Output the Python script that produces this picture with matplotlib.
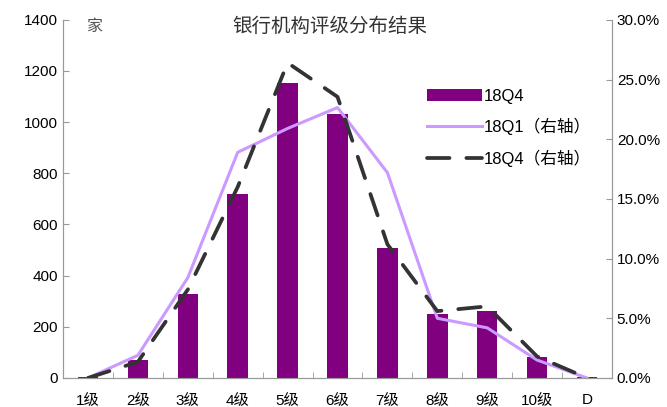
import matplotlib
matplotlib.use('Agg')
import matplotlib.pyplot as plt
import numpy as np
from matplotlib.ticker import FuncFormatter, MultipleLocator

plt.rcParams['font.family'] = ['Liberation Sans', 'Noto Sans CJK SC', 'DejaVu Sans']

categories = ['1级', '2级', '3级', '4级', '5级', '6级', '7级', '8级', '9级', '10级', 'D']
bars_18q4 = [3, 70, 328, 720, 1154, 1032, 510, 250, 262, 82, 3]
line_18q1 = [0.0, 1.9, 8.4, 18.9, 20.9, 22.65, 17.2, 5.0, 4.2, 1.5, 0.0]
line_18q4 = [0.0, 1.35, 7.4, 16.0, 26.4, 23.55, 11.2, 5.6, 6.0, 1.8, 0.0]

fig = plt.figure(figsize=(6.67, 4.07), dpi=100)
ax = fig.add_axes([0.0945, 0.0713, 0.823, 0.880])
ax2 = ax.twinx()

x = np.arange(len(categories))
b = ax.bar(x, bars_18q4, width=0.41, color='#800080', label='18Q4', zorder=2)
l1, = ax2.plot(x, line_18q1, color='#cc99ff', lw=2.2, label='18Q1（右轴）')
l2, = ax2.plot(x, line_18q4, color='#333333', lw=2.7, dashes=(6, 4.5),
               dash_capstyle='round', label='18Q4（右轴）')

ax.set_xlim(-0.5, 10.5)
ax.set_ylim(0, 1400)
ax2.set_ylim(0, 30)
ax.yaxis.set_major_locator(MultipleLocator(200))
ax2.yaxis.set_major_locator(MultipleLocator(5))
ax2.yaxis.set_major_formatter(FuncFormatter(lambda v, p: f'{v:.1f}%'))

ax.set_xticks(x)
ax.set_xticklabels(categories)
ax.set_xticks(np.arange(-0.5, 11, 1), minor=True)
ax.tick_params(axis='x', which='major', length=0, labelsize=11, pad=11)
ax.tick_params(axis='x', which='minor', direction='in', length=4, color='#999999')
ax.tick_params(axis='y', direction='in', length=4, color='#999999', labelsize=11)
ax2.tick_params(axis='y', direction='in', length=4, color='#999999', labelsize=11)

for a in (ax, ax2):
    a.spines['top'].set_visible(False)
    for s in ('left', 'right', 'bottom'):
        a.spines[s].set_color('#999999')

ax.text(0.042, 0.98, '家', transform=ax.transAxes, fontsize=11.5, va='center', ha='left', color='#555555')
ax.text(0.486, 0.98, '银行机构评级分布结果', transform=ax.transAxes, fontsize=14, va='center', ha='center', color='#333333')

ax2.legend([b, l1, l2], ['18Q4', '18Q1（右轴）', '18Q4（右轴）'],
           loc='upper left', bbox_to_anchor=(0.635, 0.85), frameon=False,
           fontsize=12, handlelength=3.3, labelspacing=0.86, handletextpad=0.1)

fig.savefig('out.png', dpi=100)
